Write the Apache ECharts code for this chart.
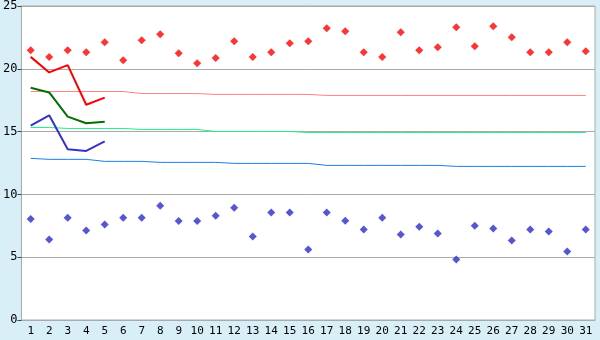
<!DOCTYPE html>
<html>
<head>
<meta charset="utf-8">
<style>
html,body{margin:0;padding:0;background:#d9eff7;}
#c{width:600px;height:340px;}
</style>
<script src="https://cdn.jsdelivr.net/npm/echarts@6/dist/echarts.min.js"></script>
</head>
<body>
<div id="c"></div>
<script>
var days = ['1','2','3','4','5','6','7','8','9','10','11','12','13','14','15','16','17','18','19','20','21','22','23','24','25','26','27','28','29','30','31'];
var yTicks = [0,5,10,15,20,25];
var dailyMax = [21.48,20.93,21.48,21.32,22.12,20.69,22.28,22.75,21.24,20.45,20.85,22.2,20.93,21.32,22.04,22.2,23.23,22.99,21.32,20.93,22.91,21.48,21.72,23.3,21.8,23.38,22.51,21.32,21.32,22.12,21.4];
var dailyMin = [8.04,6.4,8.15,7.12,7.6,8.15,8.15,9.1,7.88,7.88,8.31,8.94,6.64,8.55,8.55,5.61,8.55,7.91,7.2,8.15,6.8,7.43,6.88,4.82,7.51,7.28,6.33,7.2,7.04,5.45,7.2];
var recentMax = [20.95,19.71,20.29,17.14,17.7];
var recentMean = [18.49,18.12,16.19,15.66,15.79];
var recentMin = [15.48,16.3,13.6,13.46,14.23];
var normalMax = [18.19,18.19,18.19,18.19,18.19,18.19,18.03,18.03,18.03,18.03,17.96,17.96,17.96,17.96,17.96,17.96,17.88,17.88,17.88,17.88,17.88,17.88,17.88,17.88,17.88,17.88,17.88,17.88,17.88,17.88,17.88];
var normalMean = [15.33,15.33,15.25,15.25,15.25,15.25,15.17,15.17,15.17,15.17,15.01,15.01,15.01,15.01,15.01,14.93,14.93,14.93,14.93,14.93,14.93,14.93,14.93,14.93,14.93,14.93,14.93,14.93,14.93,14.93,14.93];
var normalMin = [12.87,12.79,12.79,12.79,12.63,12.63,12.63,12.55,12.55,12.55,12.55,12.47,12.47,12.47,12.47,12.47,12.31,12.31,12.31,12.31,12.31,12.31,12.31,12.23,12.23,12.23,12.23,12.23,12.23,12.23,12.23];

var chart = echarts.init(document.getElementById('c'), null, {renderer:'canvas'});
var font = 'DejaVu Sans Mono';
function flat(name, data, color){
  return {name:name,type:'line',data:data,symbol:'none',lineStyle:{color:color,width:1},z:2,animation:false};
}
function thick(name, data, color){
  return {name:name,type:'line',data:data,symbol:'none',lineStyle:{color:color,width:2},z:3,animation:false};
}
chart.setOption({
  animation:false,
  backgroundColor:'#d9eff7',
  grid:{left:20,right:5,top:5,bottom:20,show:true,backgroundColor:'#ffffff',borderColor:'#aaaaaa',borderWidth:1},
  xAxis:{
    type:'category',data:days,boundaryGap:true,
    axisLine:{lineStyle:{color:'#aaaaaa'}},
    axisTick:{alignWithLabel:true,length:5,lineStyle:{color:'#444444'}},
    axisLabel:{color:'#000',fontFamily:font,fontSize:11,margin:6,interval:0},
    splitLine:{show:false}
  },
  yAxis:{
    type:'value',min:yTicks[0],max:yTicks[yTicks.length-1],interval:5,
    axisLine:{show:true,lineStyle:{color:'#aaaaaa'}},
    axisTick:{show:true,length:4,lineStyle:{color:'#444444'}},
    axisLabel:{color:'#000',fontFamily:font,fontSize:12,margin:4},
    splitLine:{lineStyle:{color:'#aaaaaa',width:1}}
  },
  series:[
    flat('normalMax',normalMax,'#ff8080'),
    flat('normalMean',normalMean,'#22ee88'),
    flat('normalMin',normalMin,'#1a7ee8'),
    thick('recentMax',recentMax,'#ff0000'),
    thick('recentMean',recentMean,'#007000'),
    thick('recentMin',recentMin,'#3333cc'),
    {name:'dailyMax',type:'scatter',data:dailyMax,symbol:'diamond',symbolSize:8,itemStyle:{color:'#ff0000'},z:4},
    {name:'dailyMin',type:'scatter',data:dailyMin,symbol:'diamond',symbolSize:8,itemStyle:{color:'#2a2acc'},z:4}
  ]
});
</script>
</body>
</html>
